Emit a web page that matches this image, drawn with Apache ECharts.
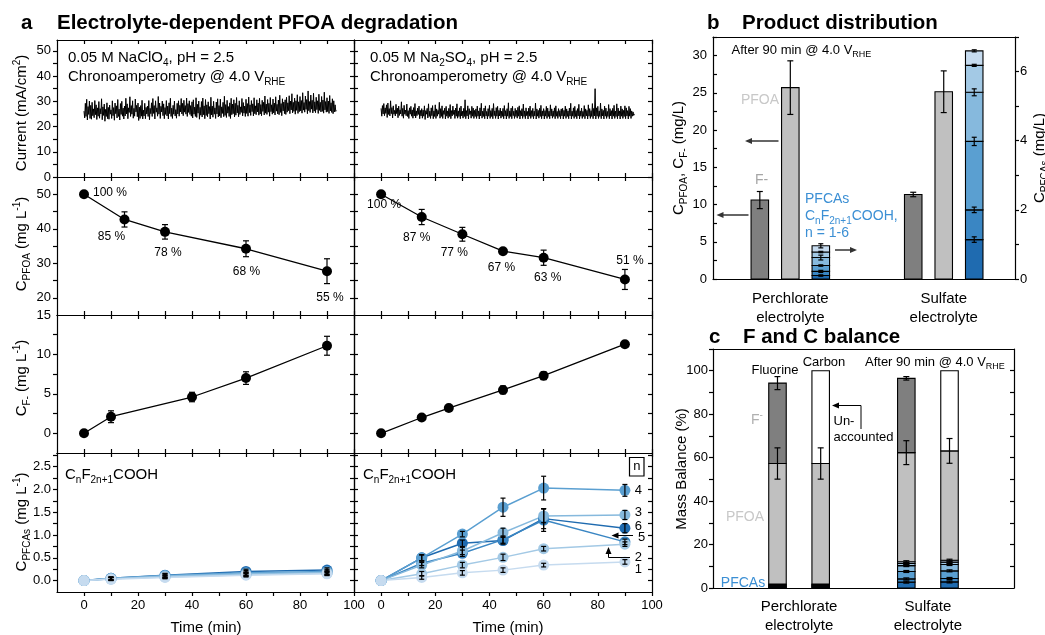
<!DOCTYPE html>
<html><head><meta charset="utf-8">
<script src="https://cdn.jsdelivr.net/npm/echarts@6/dist/echarts.min.js"></script>
<style>html,body{margin:0;padding:0;background:#fff}#c{width:1045px;height:635px}</style>
</head><body><div id="c"></div>
<script>
// ---------------- DATA ----------------
const currentStepMin = 0.25;
const currentPerchlorate = [
26.1,23.4,29.2,24.0,30.8,22.6,27.9,24.8,30.1,23.2,28.4,22.9,29.6,24.3,27.0,23.5,30.3,24.7,28.6,22.8,
27.4,24.1,29.9,23.3,27.1,25.0,31.0,22.7,27.8,24.4,28.9,22.1,26.8,24.0,29.4,23.1,27.6,22.9,28.5,24.9,
26.6,23.2,30.2,24.3,27.5,22.5,29.3,25.1,28.2,23.4,30.7,24.0,26.9,22.6,29.1,24.8,30.0,24.1,27.3,23.0,
28.1,24.2,31.2,25.0,29.0,23.1,27.4,25.6,31.8,24.0,28.3,24.9,30.2,23.3,27.2,24.1,30.9,25.8,28.4,23.9,
29.3,22.4,27.7,23.2,28.3,24.1,30.4,23.0,26.5,24.2,29.2,23.1,27.6,25.0,28.1,24.0,30.3,22.7,27.2,25.1,
29.4,24.0,31.1,25.2,28.3,23.0,30.2,25.7,27.4,24.1,31.9,24.9,29.3,23.2,28.0,25.8,30.1,24.3,29.0,23.1,
27.5,24.8,30.3,24.2,28.1,23.0,29.4,25.1,31.2,24.0,27.3,23.2,28.4,24.9,30.1,24.2,26.7,23.3,29.2,25.0,
30.2,24.1,28.4,25.8,31.1,25.0,29.2,24.3,30.4,25.7,28.3,24.9,31.3,24.0,29.1,25.6,30.2,24.8,28.3,24.1,
29.8,23.4,30.6,24.9,27.7,24.0,31.4,23.6,28.8,25.3,30.1,22.9,27.6,24.5,29.9,23.8,31.3,24.7,28.2,23.1,
30.7,24.4,28.6,23.9,29.8,25.1,27.9,23.0,31.6,24.6,28.1,23.7,30.0,24.9,27.4,23.2,29.7,25.0,31.0,23.8,
28.3,24.2,30.9,23.5,27.8,25.2,29.6,23.9,32.0,24.4,28.7,23.6,30.4,25.3,27.9,24.0,29.4,23.2,31.2,24.7,
28.9,25.1,30.6,23.8,29.2,24.5,31.5,25.4,28.4,23.9,30.2,24.8,27.8,25.6,31.1,24.2,29.5,25.3,28.1,24.0,
30.8,25.2,29.1,24.1,31.7,25.5,28.6,24.4,30.3,25.9,29.0,24.2,31.4,25.1,28.2,24.7,30.6,25.8,29.3,24.5,
31.2,25.0,28.7,24.3,30.4,26.0,29.6,24.6,32.1,25.3,28.9,24.8,30.7,25.7,29.2,24.1,31.5,25.9,28.6,24.9,
30.9,25.4,29.3,24.6,31.8,26.1,28.8,25.0,30.5,24.7,32.4,25.6,29.1,24.3,31.0,26.2,29.7,25.1,30.6,24.8,
31.6,25.7,29.4,26.3,32.2,25.1,30.1,26.6,33.0,25.4,29.6,26.0,31.3,24.9,30.2,26.4,32.6,25.2,29.8,25.9,
31.9,26.2,30.3,25.3,33.4,26.5,29.5,25.7,32.1,26.8,30.7,25.1,34.1,26.3,29.9,25.6,32.5,26.9,30.4,25.4,
33.2,26.1,29.8,25.5,31.6,26.7,30.2,25.2,32.8,26.4,29.6,25.8,31.9,26.0,30.5,25.3,33.6,26.6,29.9,25.7,
31.4,25.9,30.1,25.2,32.3,26.2,29.4,25.6,31.0,25.1,30.2,25.8,28.6,26.0,26.3];
const currentSulfate = [
27.2,24.1,28.3,25.0,29.1,24.3,27.4,25.2,28.6,23.6,29.3,24.8,27.1,24.2,30.2,25.1,27.5,23.4,28.2,24.9,
26.4,24.2,28.8,25.1,27.3,23.5,28.1,24.4,26.6,25.0,29.8,24.1,27.2,23.3,28.4,24.9,26.5,24.3,28.9,24.0,
26.3,23.2,27.4,24.9,28.0,24.1,26.6,23.3,27.5,24.2,29.1,23.4,26.2,24.3,27.3,24.8,28.1,23.1,26.4,24.2,
27.1,23.3,26.5,24.1,28.2,22.8,26.3,24.9,27.2,23.4,29.0,24.0,26.1,23.2,27.4,24.3,28.3,23.1,26.2,24.0,
28.6,23.2,27.0,24.1,26.4,24.9,29.6,23.3,27.1,24.0,28.2,23.2,26.3,24.8,27.3,23.0,28.0,24.1,26.2,23.3,
27.2,24.0,28.7,23.1,26.3,24.2,28.1,24.8,26.5,23.2,27.3,24.1,29.0,23.3,26.2,24.0,27.4,23.1,28.1,24.2,
26.1,23.3,27.2,24.0,30.6,23.1,26.3,24.2,28.2,23.0,27.1,24.8,26.2,23.3,28.0,24.1,27.3,23.2,26.4,24.0,
27.0,23.2,28.1,24.1,26.2,23.0,27.4,24.2,29.2,23.3,26.1,24.0,27.3,23.1,28.2,24.2,26.0,23.0,27.1,24.1,
28.4,23.2,26.3,24.0,27.2,23.1,29.1,24.3,26.2,23.2,27.5,24.1,28.0,23.0,26.4,24.2,27.3,23.3,26.1,24.0,
27.2,23.1,28.3,24.2,26.3,23.0,27.1,24.1,29.4,23.2,26.2,24.0,27.3,23.1,28.0,24.3,26.1,23.2,27.2,24.0,
26.4,23.3,27.6,24.1,28.2,23.0,26.3,24.2,27.1,23.2,28.9,24.0,26.2,23.1,27.4,24.3,26.0,23.0,27.3,24.1,
28.1,23.2,26.3,24.0,27.2,23.1,26.1,24.2,29.3,23.0,27.0,24.1,26.4,23.3,27.2,24.0,28.4,23.1,26.2,24.2,
27.1,23.0,26.3,24.1,28.0,23.2,27.3,24.0,26.1,23.1,28.6,24.2,27.0,23.3,26.2,24.0,27.4,23.1,28.2,24.1,
26.0,23.2,27.1,24.0,26.3,23.1,27.0,24.2,27.2,23.0,26.4,24.1,28.1,23.2,27.0,24.0,26.2,23.1,27.3,24.2,
29.2,23.0,26.1,24.1,27.4,23.2,28.0,24.0,26.3,23.1,27.1,24.2,28.8,23.0,26.2,24.1,27.3,23.2,26.0,24.0,
28.3,23.1,27.0,24.2,26.4,23.0,28.6,24.1,27.1,23.2,26.3,24.0,29.1,23.1,27.2,24.2,35.0,23.0,27.4,24.1,
28.0,23.2,26.2,24.0,29.3,23.1,27.0,24.2,26.4,23.0,28.1,24.1,27.3,23.2,26.0,24.0,28.7,23.1,27.1,24.2,
26.3,23.0,27.2,24.1,28.4,23.2,26.1,24.0,29.0,23.1,27.3,24.2,26.2,23.0,28.1,24.1,27.0,23.2,26.4,24.0,
28.2,23.1,27.4,24.2,26.3,23.0,28.0,24.1,27.1,23.2,26.2,24.1,25.8,24.4,25.0];

const pfoaTimesPerchlorate = [0, 15, 30, 60, 90];
const pfoaPerchlorate = [50, 42.7, 39.1, 34.2, 27.7];
const pfoaErrPerchlorate = [0, 2.2, 2.1, 2.3, 3.6];
const pfoaPctPerchlorate = ['100 %', '85 %', '78 %', '68 %', '55 %'];

const pfoaTimesSulfate = [0, 15, 30, 45, 60, 90];
const pfoaSulfate = [50, 43.4, 38.4, 33.5, 31.6, 25.3];
const pfoaErrSulfate = [0, 2.2, 2.0, 0, 2.2, 2.9];
const pfoaPctSulfate = ['100 %', '87 %', '77 %', '67 %', '63 %', '51 %'];

const fluorideTimesPerchlorate = [0, 10, 40, 60, 90];
const fluoridePerchlorate = [0, 2.1, 4.6, 7.0, 11.1];
const fluorideErrPerchlorate = [0, 0.75, 0.6, 0.8, 1.2];
const fluorideTimesSulfate = [0, 15, 25, 45, 60, 90];
const fluorideSulfate = [0, 2.0, 3.2, 5.5, 7.3, 11.3];
const fluorideErrSulfate = [0, 0.15, 0.15, 0.5, 0.5, 0.2];

// PFCA rows: n = 1 .. 6
const pfcaChain = [1, 2, 3, 4, 5, 6];
const pfcaTimesPerchlorate = [0, 10, 30, 60, 90];
const pfcaPerchlorate = [
  [0, 0.03, 0.07, 0.12, 0.15],
  [0, 0.04, 0.08, 0.13, 0.16],
  [0, 0.04, 0.10, 0.15, 0.18],
  [0, 0.05, 0.11, 0.17, 0.20],
  [0, 0.04, 0.09, 0.14, 0.17],
  [0, 0.05, 0.12, 0.20, 0.23]];
const pfcaErrPerchlorate = [
  [0, 0.03, 0.03, 0.04, 0.04],
  [0, 0.03, 0.03, 0.04, 0.04],
  [0, 0.03, 0.04, 0.04, 0.05],
  [0, 0.03, 0.04, 0.05, 0.05],
  [0, 0.03, 0.03, 0.04, 0.04],
  [0, 0.03, 0.04, 0.05, 0.05]];
const pfcaTimesSulfate = [0, 15, 30, 45, 60, 90];
const pfcaSulfate = [
  [0, 0.07, 0.17, 0.23, 0.34, 0.41],
  [0, 0.15, 0.34, 0.51, 0.70, 0.80],
  [0, 0.34, 0.65, 1.05, 1.42, 1.44],
  [0, 0.50, 1.02, 1.61, 2.03, 1.98],
  [0, 0.38, 0.60, 0.90, 1.33, 0.85],
  [0, 0.50, 0.82, 0.88, 1.36, 1.15]];
const pfcaErrSulfate = [
  [0, 0.04, 0.05, 0.05, 0.04, 0.05],
  [0, 0.05, 0.06, 0.07, 0.05, 0.05],
  [0, 0.06, 0.08, 0.10, 0.15, 0.10],
  [0, 0.07, 0.06, 0.20, 0.26, 0.13],
  [0, 0.05, 0.07, 0.08, 0.25, 0.06],
  [0, 0.06, 0.07, 0.08, 0.22, 0.10]];

// Panel b
const electrolytes = ['Perchlorate\nelectrolyte', 'Sulfate\nelectrolyte'];
const bFluoride = [10.6, 11.35];
const bFluorideErr = [1.15, 0.3];
const bPFOA = [25.7, 25.15];
const bPFOAErr = [3.6, 2.8];
const bPFCA = [[0.18, 0.16, 0.23, 0.17, 0.12, 0.10], [0.42, 0.78, 1.42, 1.98, 0.86, 1.14]];
const bPFCAErr = [[0.06, 0.02, 0.07, 0.02, 0.03, 0.02], [0.03, 0.03, 0.10, 0.12, 0.08, 0.08]];

// Panel c (mass balance %)
const cPFCAFluorine = [[0.3, 0.3, 0.3, 0.3, 0.3, 0.3], [0.8, 1.0, 2.7, 3.4, 1.5, 2.7]];
const cPFCACarbon = [[0.3, 0.3, 0.3, 0.3, 0.3, 0.3], [0.9, 1.1, 2.9, 3.5, 1.6, 2.8]];
const cPFCAErr = [0, 0.45];
const cPFOAFluorine = [55.5, 50.2];
const cPFOAFluorineErr = [7.2, 5.5];
const cPFOACarbon = [55.5, 50.3];
const cPFOACarbonErr = [7.2, 5.7];
const cFluoride = [37.0, 34.2];
const cFluorideErr = [3.0, 0.8];
const cCarbonTotal = 100;

// ---------------- STYLE ----------------
const FONT = "'Liberation Sans', Arial, Helvetica, sans-serif";
const AXL = {color: '#000', width: 1.2};
const pfcaColors = ['#c6dbef', '#a3c9e5', '#86b9dd', '#5a9fd1', '#3a86c3', '#1f6bb0'];
const palette = ['#7f7f7f', '#c0c0c0', '#ffffff'].concat(pfcaColors); // n -> index 2+n

const grids = [], xAxes = [], yAxes = [], series = [], els = [];
function axis(kind, o) {
  const a = {type: 'value', gridIndex: o.g, position: o.pos, min: o.min, max: o.max,
    axisLine: {show: true, onZero: false, lineStyle: AXL},
    axisTick: o.ticks ? {show: true, inside: !!o.inside, length: o.len || 4, lineStyle: AXL, customValues: o.ticks} : {show: false},
    axisLabel: o.labels ? Object.assign({show: true, customValues: o.labels, color: '#000', fontFamily: FONT,
      fontSize: o.fs || 13, margin: o.margin == null ? 5 : o.margin}, o.fmt ? {formatter: o.fmt} : {}, o.lab || {}) : {show: false},
    splitLine: {show: false}, minorTick: {show: false}};
  const arr = kind === 'x' ? xAxes : yAxes;
  arr.push(a);
  return arr.length - 1;
}
function seq(a, b, s) { const r = []; for (let v = a; v <= b + 1e-9; v += s) r.push(+v.toFixed(4)); return r; }

// ---------------- PANEL a ----------------
const colsA = [{left: 57, width: 297}, {left: 354, width: 298}];
const rowsA = [
  {top: 40, height: 137, min: 0, max: 54.3, labels: seq(0, 50, 10), ticks: seq(0, 50, 5)},
  {top: 177, height: 138, min: 15, max: 55, labels: seq(20, 50, 10), ticks: seq(20, 50, 5)},
  {top: 315, height: 138, min: -2.5, max: 15, labels: seq(0, 15, 5), ticks: seq(0, 12.5, 2.5)},
  {top: 453, height: 139, min: -0.25, max: 2.8, labels: seq(0, 2.5, 0.5), ticks: seq(0, 2.75, 0.25), fmt: v => (+v).toFixed(1)}
];
const timeTicks = seq(0, 100, 10), timeLabels = seq(0, 100, 20);
const axA = [];
rowsA.forEach((r, ri) => {
  axA[ri] = [];
  colsA.forEach((c, ci) => {
    grids.push({left: c.left, top: r.top, width: c.width, height: r.height});
    const g = grids.length - 1;
    const last = ri === 3;
    const xi = axis('x', {g, pos: 'bottom', min: -10, max: 100, ticks: timeTicks, inside: !last,
      labels: last ? timeLabels : null, margin: 7});
    axis('x', {g, pos: 'top', min: -10, max: 100, ticks: timeTicks, inside: true});
    const yi = axis('y', {g, pos: 'left', min: r.min, max: r.max, ticks: r.ticks, inside: ci === 1,
      labels: ci === 0 ? r.labels : null, fmt: r.fmt, margin: 6});
    axis('y', {g, pos: 'right', min: r.min, max: r.max, ticks: r.ticks, inside: true});
    axA[ri][ci] = {x: xi, y: yi};
  });
});

function L(x1, y1, x2, y2) { return {type: 'line', shape: {x1, y1, x2, y2}, style: {stroke: '#000', lineWidth: 1.2}}; }
function errSeries(xi, yi, data, cap) {
  return {type: 'custom', xAxisIndex: xi, yAxisIndex: yi, z: 6, silent: true, data,
    renderItem: (p, api) => {
      const x = api.value(0), lo = api.value(1), hi = api.value(2), off = api.value(3) || 0;
      const a = api.coord([x, lo]), b = api.coord([x, hi]);
      const cx = a[0] + off, h = cap || 3;
      return {type: 'group', children: [L(cx, a[1], cx, b[1]), L(cx - h, a[1], cx + h, a[1]), L(cx - h, b[1], cx + h, b[1])]};
    }};
}
function errData(times, vals, errs) {
  const d = [];
  times.forEach((t, i) => { if (errs[i] > 0) d.push([t, vals[i] - errs[i], vals[i] + errs[i], 0]); });
  return d;
}
function pointSeries(ax, times, vals, color, size, labels, offsets, lw) {
  return {type: 'line', xAxisIndex: ax.x, yAxisIndex: ax.y, silent: true, z: 3,
    data: times.map((t, i) => {
      const d = {value: [t, vals[i]]};
      if (labels) d.label = {show: true, formatter: labels[i], offset: offsets[i]};
      return d;
    }),
    symbol: 'circle', symbolSize: size, showSymbol: true,
    itemStyle: {color: color, opacity: 1}, lineStyle: {color: color, width: lw || 1.3},
    label: {show: false, position: 'inside', color: '#000', fontSize: 12, fontFamily: FONT}};
}

// Row 1 current
[currentPerchlorate, currentSulfate].forEach((arr, ci) => {
  series.push({type: 'line', xAxisIndex: axA[0][ci].x, yAxisIndex: axA[0][ci].y, silent: true, z: 2,
    data: arr.map((v, i) => [i * currentStepMin, v]), showSymbol: false, symbol: 'none', sampling: null,
    lineStyle: {color: '#000', width: 1}});
});
// Row 2 PFOA
const pctOffL = [[26, -2], [-13, 17.5], [3, 21], [0.5, 22.7], [3, 26.7]];
const pctOffR = [[3, 10], [-5, 21], [-8, 18], [-1.5, 17], [4, 20], [5, -19]];
series.push(pointSeries(axA[1][0], pfoaTimesPerchlorate, pfoaPerchlorate, '#000', 10, pfoaPctPerchlorate, pctOffL));
series.push(errSeries(axA[1][0].x, axA[1][0].y, errData(pfoaTimesPerchlorate, pfoaPerchlorate, pfoaErrPerchlorate)));
series.push(pointSeries(axA[1][1], pfoaTimesSulfate, pfoaSulfate, '#000', 10, pfoaPctSulfate, pctOffR));
series.push(errSeries(axA[1][1].x, axA[1][1].y, errData(pfoaTimesSulfate, pfoaSulfate, pfoaErrSulfate)));
// Row 3 fluoride
series.push(pointSeries(axA[2][0], fluorideTimesPerchlorate, fluoridePerchlorate, '#000', 10));
series.push(errSeries(axA[2][0].x, axA[2][0].y, errData(fluorideTimesPerchlorate, fluoridePerchlorate, fluorideErrPerchlorate)));
series.push(pointSeries(axA[2][1], fluorideTimesSulfate, fluorideSulfate, '#000', 10));
series.push(errSeries(axA[2][1].x, axA[2][1].y, errData(fluorideTimesSulfate, fluorideSulfate, fluorideErrSulfate)));
// Row 4 PFCAs
[[pfcaTimesPerchlorate, pfcaPerchlorate, pfcaErrPerchlorate], [pfcaTimesSulfate, pfcaSulfate, pfcaErrSulfate]].forEach((set, ci) => {
  const [times, vals, errs] = set;
  const ax = axA[3][ci];
  let ed = [];
  for (let k = pfcaChain.length - 1; k >= 0; k--) {
    series.push(pointSeries(ax, times, vals[k], pfcaColors[k], 11, null, null, 1.5));
    ed = ed.concat(errData(times, vals[k], errs[k]));
  }
  series.push(errSeries(ax.x, ax.y, ed, 2.5));
});

// ---------------- PANEL b ----------------
grids.push({left: 713, top: 37, width: 302, height: 242});
const gB = grids.length - 1;
const bGroupX = [0.256, 0.764];
const bOff = [-30.5, 0, 30.5];
const BAR_W = 17.5;
const catFmt = (xs) => (v => electrolytes[Math.abs(v - xs[0]) < Math.abs(v - xs[1]) ? 0 : 1]);
const xB = axis('x', {g: gB, pos: 'bottom', min: 0, max: 1, labels: bGroupX, fmt: catFmt(bGroupX), fs: 15, margin: 10, lab: {lineHeight: 19}});
axis('x', {g: gB, pos: 'top', min: 0, max: 1});
const yBL = axis('y', {g: gB, pos: 'left', min: 0, max: 32.5, labels: seq(0, 30, 5), ticks: seq(0, 32.5, 2.5), inside: true, margin: 6});
const yBR = axis('y', {g: gB, pos: 'right', min: 0, max: 7, labels: seq(0, 6, 2), ticks: seq(0, 7, 1), margin: 5});

function barRender(p, api) {
  const x = api.value(0), y0 = api.value(1), y1 = api.value(2), off = api.value(3), ci = api.value(4);
  const a = api.coord([x, y0]), b = api.coord([x, y1]);
  return {type: 'rect', shape: {x: a[0] + off - BAR_W / 2, y: b[1], width: BAR_W, height: a[1] - b[1]},
    style: {fill: palette[ci], stroke: '#000', lineWidth: 1.1}};
}
const bLeftBars = [], bRightBars = [], bLeftErr = [], bRightErr = [];
electrolytes.forEach((e, gi) => {
  const x = bGroupX[gi];
  bLeftBars.push([x, 0, bFluoride[gi], bOff[0], 0]);
  bLeftBars.push([x, 0, bPFOA[gi], bOff[1], 1]);
  bLeftErr.push([x, bFluoride[gi] - bFluorideErr[gi], bFluoride[gi] + bFluorideErr[gi], bOff[0]]);
  bLeftErr.push([x, bPFOA[gi] - bPFOAErr[gi], bPFOA[gi] + bPFOAErr[gi], bOff[1]]);
  let cum = 0;
  for (let k = 5; k >= 0; k--) {
    const v = bPFCA[gi][k];
    bRightBars.push([x, cum, cum + v, bOff[2], 3 + k]);
    cum += v;
    bRightErr.push([x, cum - bPFCAErr[gi][k], cum + bPFCAErr[gi][k], bOff[2]]);
  }
});
series.push({type: 'custom', xAxisIndex: xB, yAxisIndex: yBL, renderItem: barRender, data: bLeftBars, silent: true, z: 2});
series.push({type: 'custom', xAxisIndex: xB, yAxisIndex: yBR, renderItem: barRender, data: bRightBars, silent: true, z: 2});
series.push(errSeries(xB, yBL, bLeftErr, 3));
series.push(errSeries(xB, yBR, bRightErr, 2.5));

// ---------------- PANEL c ----------------
grids.push({left: 713, top: 349, width: 301, height: 243});
const gC = grids.length - 1;
const cGroupX = [0.286, 0.714];
const cOff = [-21.6, 21.6];
const xC = axis('x', {g: gC, pos: 'bottom', min: 0, max: 1, labels: cGroupX, fmt: catFmt(cGroupX), fs: 15, margin: 10, lab: {lineHeight: 18.5}});
axis('x', {g: gC, pos: 'top', min: 0, max: 1});
const yCL = axis('y', {g: gC, pos: 'left', min: 0, max: 110, labels: seq(0, 100, 20), ticks: seq(0, 110, 10), margin: 5});
axis('y', {g: gC, pos: 'right', min: 0, max: 110, ticks: seq(10, 100, 10), inside: true});
const cBars = [], cErr = [];
electrolytes.forEach((e, gi) => {
  const x = cGroupX[gi];
  [[cPFCAFluorine, cPFOAFluorine, cPFOAFluorineErr, cOff[0]], [cPFCACarbon, cPFOACarbon, cPFOACarbonErr, cOff[1]]].forEach((b, bi) => {
    const [pf, po, poErr, off] = b;
    let cum = 0;
    for (let k = 5; k >= 0; k--) {
      const v = pf[gi][k];
      cBars.push([x, cum, cum + v, off, 3 + k]);
      cum += v;
      if (cPFCAErr[gi] > 0) cErr.push([x, cum - cPFCAErr[gi], cum + cPFCAErr[gi], off]);
    }
    cBars.push([x, cum, cum + po[gi], off, 1]);
    cum += po[gi];
    cErr.push([x, cum - poErr[gi], cum + poErr[gi], off]);
    if (bi === 0) {
      cBars.push([x, cum, cum + cFluoride[gi], off, 0]);
      cum += cFluoride[gi];
      cErr.push([x, cum - cFluorideErr[gi], cum + cFluorideErr[gi], off]);
    } else {
      cBars.push([x, cum, cCarbonTotal, off, 2]);
    }
  });
});
series.push({type: 'custom', xAxisIndex: xC, yAxisIndex: yCL, renderItem: barRender, data: cBars, silent: true, z: 2});
series.push(errSeries(xC, yCL, cErr, 3));

// ---------------- TEXT / ANNOTATIONS ----------------
function rich(fs, color) {
  const s = Math.round(fs * 0.68);
  return {sub: {fontSize: s, fontFamily: FONT, fill: color, verticalAlign: 'bottom', lineHeight: Math.round(fs * 0.7)},
          sup: {fontSize: s, fontFamily: FONT, fill: color, verticalAlign: 'top', lineHeight: Math.round(fs * 0.7)}};
}
function T(x, y, text, o) {
  o = o || {};
  const fs = o.fs || 15, color = o.color || '#000';
  els.push({type: 'text', x, y, rotation: o.rot || 0, z: 50, silent: true,
    style: {text, fill: color, fontSize: fs, fontFamily: FONT, fontWeight: o.bold ? 'bold' : 'normal',
      align: o.align || 'left', verticalAlign: 'middle', lineHeight: Math.round(fs * 1.35), rich: rich(fs, color)}});
}
function arrow(pts, color, lw) {
  color = color || '#000';
  const n = pts.length, [x2, y2] = pts[n - 1], [x1, y1] = pts[n - 2];
  const ang = Math.atan2(y2 - y1, x2 - x1), Lh = 7, W = 3;
  const bx = x2 - Lh * Math.cos(ang), by = y2 - Lh * Math.sin(ang);
  const line = pts.slice(0, n - 1).concat([[bx + 1 * Math.cos(ang), by + 1 * Math.sin(ang)]]);
  els.push({type: 'polyline', z: 50, silent: true, shape: {points: line}, style: {stroke: color, lineWidth: lw || 1.3, fill: 'none'}});
  els.push({type: 'polygon', z: 50, silent: true, shape: {points: [[x2, y2], [bx + W * Math.sin(ang), by - W * Math.cos(ang)], [bx - W * Math.sin(ang), by + W * Math.cos(ang)]]}, style: {fill: color}});
}
const PI2 = Math.PI / 2;
// titles
T(21, 23, 'a', {bold: true, fs: 20.5});
T(57, 23, 'Electrolyte-dependent PFOA degradation', {bold: true, fs: 20.5});
T(707, 23, 'b', {bold: true, fs: 20.5});
T(742, 23, 'Product distribution', {bold: true, fs: 20.5});
T(709, 337, 'c', {bold: true, fs: 20.5});
T(743, 337, 'F and C balance', {bold: true, fs: 20.5});
// panel a annotations
T(68, 58, '0.05 M NaClO{sub|4}, pH = 2.5');
T(68, 77, 'Chronoamperometry @ 4.0 V{sub|RHE}');
T(370, 58, '0.05 M Na{sub|2}SO{sub|4}, pH = 2.5');
T(370, 77, 'Chronoamperometry @ 4.0 V{sub|RHE}');
T(65, 475, 'C{sub|n}F{sub|2n+1}COOH');
T(363, 475, 'C{sub|n}F{sub|2n+1}COOH');
// y titles
T(22, 113, 'Current (mA/cm{sup|2})', {rot: PI2, align: 'center'});
T(22, 244, 'C{sub|PFOA} (mg L{sup|-1})', {rot: PI2, align: 'center'});
T(22, 378, 'C{sub|F-} (mg L{sup|-1})', {rot: PI2, align: 'center'});
T(22, 522, 'C{sub|PFCAs} (mg L{sup|-1})', {rot: PI2, align: 'center'});
T(206, 628, 'Time (min)', {align: 'center'});
T(508, 628, 'Time (min)', {align: 'center'});
// n legend
els.push({type: 'rect', z: 50, silent: true, shape: {x: 629.5, y: 457.5, width: 14.5, height: 18.5}, style: {fill: '#fff', stroke: '#000', lineWidth: 1.2}});
T(636.8, 466.5, 'n', {fs: 13, align: 'center'});
T(638.3, 490, '4', {fs: 13, align: 'center'});
T(638.3, 512.5, '3', {fs: 13, align: 'center'});
T(638.3, 526, '6', {fs: 13, align: 'center'});
T(641.7, 537, '5', {fs: 13, align: 'center'});
T(638.3, 557.5, '2', {fs: 13, align: 'center'});
T(638.3, 569.5, '1', {fs: 13, align: 'center'});
arrow([[633, 535.5], [611.5, 535.5]], '#000', 1);
arrow([[630, 557.5], [608.5, 557.5], [608.5, 547]], '#000', 1);
// panel b
T(731.5, 50, 'After 90 min @ 4.0 V{sub|RHE}', {fs: 13});
T(760, 100, 'PFOA', {fs: 14, color: '#c8c8c8', align: 'center'});
T(761.5, 180, 'F-', {fs: 14, color: '#a6a6a6', align: 'center'});
T(805, 199.5, 'PFCAs', {fs: 14, color: '#3b8fd4'});
T(805, 216.5, 'C{sub|n}F{sub|2n+1}COOH,', {fs: 14, color: '#3b8fd4'});
T(805, 233, 'n = 1-6', {fs: 14, color: '#3b8fd4'});
arrow([[778.5, 141], [745, 141]], '#333', 1.5);
arrow([[748.5, 215], [716.5, 215]], '#333', 1.5);
arrow([[835, 250], [857, 250]], '#333', 1.5);
T(679, 158, 'C{sub|PFOA}, C{sub|F-} (mg/L)', {rot: PI2, align: 'center'});
T(1040, 158, 'C{sub|PFCAs} (mg/L)', {rot: PI2, align: 'center'});
// panel c
T(775, 370.5, 'Fluorine', {fs: 13, align: 'center'});
T(824, 362.5, 'Carbon', {fs: 13, align: 'center'});
T(865, 362.5, 'After 90 min @ 4.0 V{sub|RHE}', {fs: 13});
T(757, 420, 'F{sup|-}', {fs: 14, color: '#b0b0b0', align: 'center'});
T(833.5, 421.5, 'Un-', {fs: 13});
T(833.5, 437, 'accounted', {fs: 13});
arrow([[861, 429], [861, 405.5], [832, 405.5]], '#000', 1);
T(745, 517.5, 'PFOA', {fs: 14, color: '#c8c8c8', align: 'center'});
T(743, 583, 'PFCAs', {fs: 14, color: '#3b8fd4', align: 'center'});
T(682, 469, 'Mass Balance (%)', {rot: PI2, align: 'center'});

const chart = echarts.init(document.getElementById('c'), null, {renderer: 'canvas', width: 1045, height: 635});
chart.setOption({
  animation: false,
  backgroundColor: '#fff',
  textStyle: {fontFamily: FONT},
  grid: grids, xAxis: xAxes, yAxis: yAxes, series: series,
  graphic: {elements: els}
});
</script>
</body></html>
